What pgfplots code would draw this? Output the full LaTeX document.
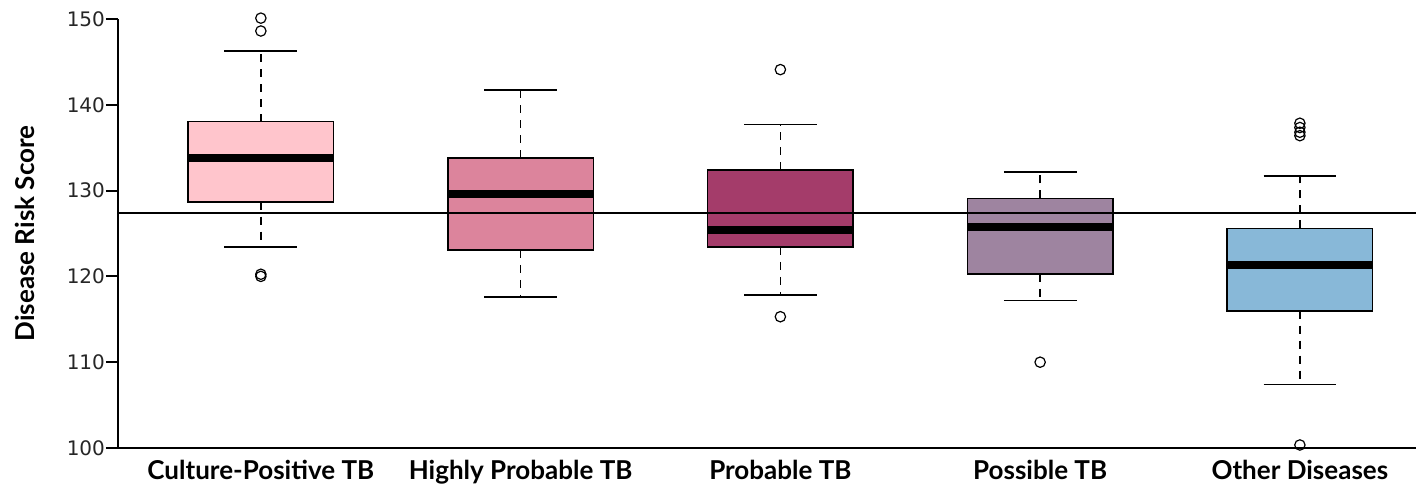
\documentclass[border=0pt]{standalone}
\usepackage{pgfplots}
\pgfplotsset{compat=1.18}
\usepackage{fontspec}
\setmainfont{Lato}
\newfontfamily\tickfont{DejaVu Sans}
\definecolor{c1}{HTML}{FFC5CC}
\definecolor{c2}{HTML}{DC849C}
\definecolor{c3}{HTML}{A43C6A}
\definecolor{c4}{HTML}{9E84A0}
\definecolor{c5}{HTML}{88B8D8}
\pgfplotsset{
 boxst/.style={draw=black, line width=0.8pt, line join=miter},
 medst/.style={black, line width=4pt, mark=none},
 whst/.style={black, line width=0.8pt, mark=none, dash pattern=on 4pt off 3.5pt},
 capst/.style={black, line width=0.8pt, mark=none},
 outst/.style={only marks, mark=o, mark size=2.6pt, mark options={black, line width=0.6pt, solid}},
}
\begin{document}
\begin{tikzpicture}
\begin{axis}[
 scale only axis, width=649pt, height=214.5pt,
 xmin=0.45, xmax=5.447, ymin=100, ymax=150,
 axis lines*=left,
 axis line style={line width=1pt, black},
 ytick={100,110,...,150},
 tick align=outside, major tick length=6pt,
 y tick style={line width=1pt, black},
 xtick={1,2,3,4,5},
 xticklabels={Culture-Positive TB, Highly Probable TB, Probable TB, Possible TB, Other Diseases},
 x tick style={draw=none},
 xticklabel style={font=\bfseries\fontsize{13}{15}\selectfont, anchor=base, yshift=-10pt},
 yticklabel style={font=\tickfont\fontsize{10}{12}\selectfont, xshift=3pt, text=black!85},
 /pgf/number format/assume math mode=true,
 ylabel={Disease Risk Score},
 ylabel style={font=\bfseries\fontsize{13}{15}\selectfont, at={(axis description cs:-0.0717,0.5)}, anchor=center},
 clip=false,
]
% Culture-Positive TB: whiskers 123.45 / 146.3, box 128.7 - 138.05, median 133.8
\addplot[whst] coordinates {(1,138.05) (1,146.3)};
\addplot[whst] coordinates {(1,128.7) (1,123.45)};
\addplot[capst] coordinates {(0.86,146.3) (1.14,146.3)};
\addplot[capst] coordinates {(0.86,123.45) (1.14,123.45)};
\addplot[boxst, fill=c1] coordinates {(0.72,128.7) (1.28,128.7) (1.28,138.05) (0.72,138.05)} --cycle;
\addplot[medst] coordinates {(0.72,133.8) (1.28,133.8)};
\addplot[outst] coordinates {(1,150.1) (1,148.6) (1,120.0) (1,120.25)};
% Highly Probable TB
\addplot[whst] coordinates {(2,133.8) (2,141.7)};
\addplot[whst] coordinates {(2,123.1) (2,117.6)};
\addplot[capst] coordinates {(1.86,141.7) (2.14,141.7)};
\addplot[capst] coordinates {(1.86,117.6) (2.14,117.6)};
\addplot[boxst, fill=c2] coordinates {(1.72,123.1) (2.28,123.1) (2.28,133.8) (1.72,133.8)} --cycle;
\addplot[medst] coordinates {(1.72,129.6) (2.28,129.6)};
% Probable TB
\addplot[whst] coordinates {(3,132.4) (3,137.7)};
\addplot[whst] coordinates {(3,123.45) (3,117.8)};
\addplot[capst] coordinates {(2.86,137.7) (3.14,137.7)};
\addplot[capst] coordinates {(2.86,117.8) (3.14,117.8)};
\addplot[boxst, fill=c3] coordinates {(2.72,123.45) (3.28,123.45) (3.28,132.4) (2.72,132.4)} --cycle;
\addplot[medst] coordinates {(2.72,125.4) (3.28,125.4)};
\addplot[outst] coordinates {(3,144.1) (3,115.3)};
% Possible TB
\addplot[whst] coordinates {(4,129.1) (4,132.2)};
\addplot[whst] coordinates {(4,120.3) (4,117.2)};
\addplot[capst] coordinates {(3.86,132.2) (4.14,132.2)};
\addplot[capst] coordinates {(3.86,117.2) (4.14,117.2)};
\addplot[boxst, fill=c4] coordinates {(3.72,120.3) (4.28,120.3) (4.28,129.1) (3.72,129.1)} --cycle;
\addplot[medst] coordinates {(3.72,125.8) (4.28,125.8)};
\addplot[outst] coordinates {(4,110.0)};
% Other Diseases
\addplot[whst] coordinates {(5,125.6) (5,131.7)};
\addplot[whst] coordinates {(5,116.0) (5,107.4)};
\addplot[capst] coordinates {(4.86,131.7) (5.14,131.7)};
\addplot[capst] coordinates {(4.86,107.4) (5.14,107.4)};
\addplot[boxst, fill=c5] coordinates {(4.72,116.0) (5.28,116.0) (5.28,125.6) (4.72,125.6)} --cycle;
\addplot[medst] coordinates {(4.72,121.3) (5.28,121.3)};
\addplot[outst] coordinates {(5,137.85) (5,137.35) (5,136.8) (5,136.4) (5,100.35)};
% reference line
\addplot[black, line width=0.7pt, mark=none] coordinates {(0.45,127.4) (5.447,127.4)};
\coordinate (bl) at (rel axis cs:0,0);
\coordinate (tr) at (rel axis cs:1,1);
\end{axis}
\pgfresetboundingbox
\path[use as bounding box] ([xshift=-59pt,yshift=-20pt]bl) rectangle ([yshift=9.5pt]tr);
\end{tikzpicture}
\end{document}
